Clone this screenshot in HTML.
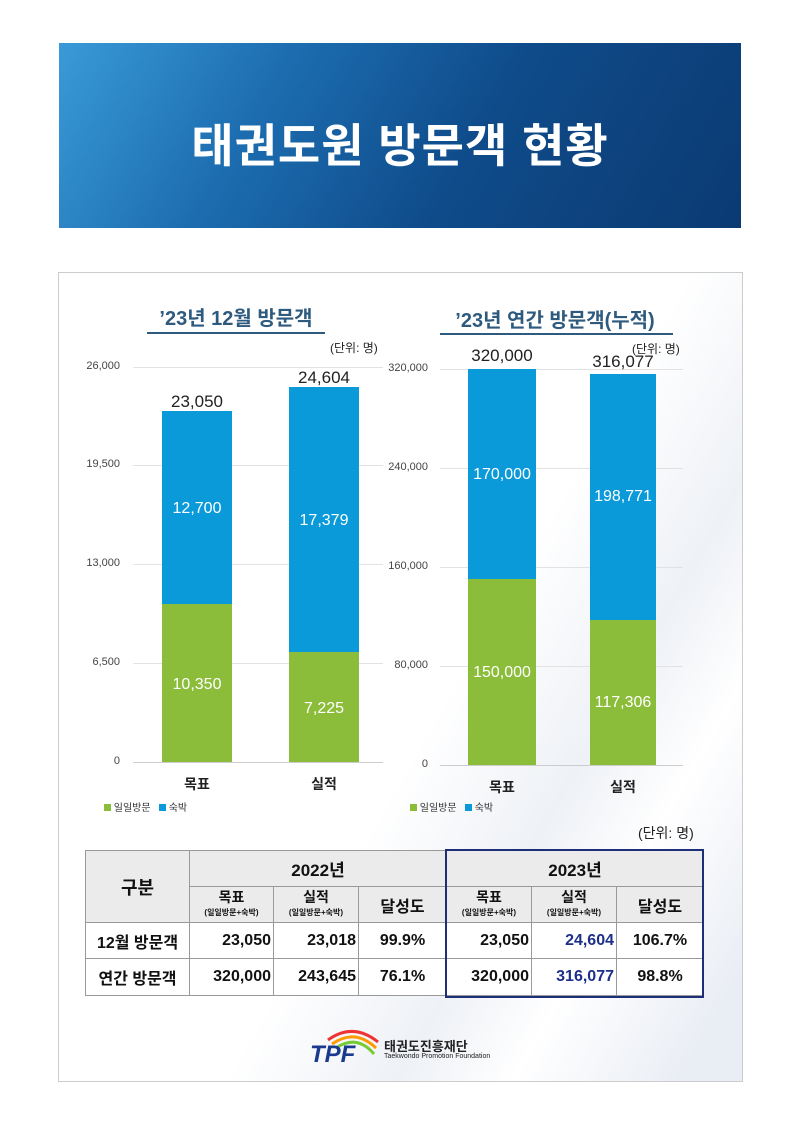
<!DOCTYPE html>
<html><head><meta charset="utf-8"><style>
body{margin:0;width:800px;height:1132px;background:#fff;position:relative;font-family:"Liberation Sans","Noto Sans CJK KR",sans-serif;overflow:hidden}
.a{position:absolute}
.t{position:absolute;white-space:nowrap}
.yl{position:absolute;font-size:11px;color:#444;text-align:right;width:60px}
.g{position:absolute;height:1px;background:#e2e2e2}
.bl{position:absolute;color:#fff;font-size:16px;text-align:center}
.top{position:absolute;color:#222;font-size:17px;text-align:center}
table{border-collapse:collapse;position:absolute;left:85px;top:850px;font-family:"Liberation Sans","Noto Sans CJK KR",sans-serif}
td{border:1px solid #999;text-align:center;font-weight:bold;color:#111;padding:0}
</style></head><body>
<div class="a" style="left:59px;top:43px;width:682px;height:185px;background:linear-gradient(120deg,#3a9ad8 0%,#1c6db0 30%,#0f4b8a 60%,#0b3a72 100%)"></div>
<div class="t" style="left:59px;top:110px;width:682px;text-align:center;color:#fff;font-size:46px;font-weight:bold;letter-spacing:1px">태권도원 방문객 현황</div>
<div class="a" style="left:58px;top:272px;width:683px;height:808px;border:1px solid #ccc;background:linear-gradient(120deg,#fff 55%,#eef1f6 70%,#fff 80%,#e9edf4 95%)"></div>

<!-- left chart -->
<div class="t" style="left:145px;top:302px;width:182px;text-align:center;font-size:20px;font-weight:bold;color:#2e5a7e">’23년 12월 방문객</div>
<div class="a" style="left:147px;top:332px;width:178px;height:2px;background:#2e5a7e"></div>
<div class="t" style="left:330px;top:339px;font-size:12px;color:#222">(단위: 명)</div>
<div class="yl" style="left:60px;top:360px">26,000</div>
<div class="yl" style="left:60px;top:458px">19,500</div>
<div class="yl" style="left:60px;top:557px">13,000</div>
<div class="yl" style="left:60px;top:656px">6,500</div>
<div class="yl" style="left:60px;top:755px">0</div>
<div class="g" style="left:133px;top:367px;width:250px"></div>
<div class="g" style="left:133px;top:465px;width:250px"></div>
<div class="g" style="left:133px;top:564px;width:250px"></div>
<div class="g" style="left:133px;top:663px;width:250px"></div>
<div class="g" style="left:133px;top:762px;width:250px;background:#ccc"></div>
<div class="a" style="left:162px;top:411px;width:70px;height:193px;background:#0a9ad9"></div>
<div class="a" style="left:162px;top:604px;width:70px;height:158px;background:#8bbd3a"></div>
<div class="a" style="left:289px;top:387px;width:70px;height:265px;background:#0a9ad9"></div>
<div class="a" style="left:289px;top:652px;width:70px;height:110px;background:#8bbd3a"></div>
<div class="top" style="left:147px;top:392px;width:100px">23,050</div>
<div class="top" style="left:274px;top:368px;width:100px">24,604</div>
<div class="bl" style="left:147px;top:500px;width:100px">12,700</div>
<div class="bl" style="left:147px;top:676px;width:100px">10,350</div>
<div class="bl" style="left:274px;top:512px;width:100px">17,379</div>
<div class="bl" style="left:274px;top:700px;width:100px">7,225</div>
<div class="t" style="left:177px;top:774px;width:40px;text-align:center;font-size:14px;font-weight:bold;color:#222">목표</div>
<div class="t" style="left:304px;top:774px;width:40px;text-align:center;font-size:14px;font-weight:bold;color:#222">실적</div>
<div class="t" style="left:104px;top:799px;font-size:10px;color:#333"><span style="display:inline-block;width:7px;height:7px;background:#8bbd3a"></span> 일일방문 &nbsp; <span style="display:inline-block;width:7px;height:7px;background:#0a9ad9"></span> 숙박</div>

<!-- right chart -->
<div class="t" style="left:430px;top:304px;width:250px;text-align:center;font-size:20px;font-weight:bold;color:#2e5a7e">’23년 연간 방문객(누적)</div>
<div class="a" style="left:440px;top:333px;width:233px;height:2px;background:#2e5a7e"></div>
<div class="t" style="left:632px;top:340px;font-size:12px;color:#222">(단위: 명)</div>
<div class="yl" style="left:368px;top:362px">320,000</div>
<div class="yl" style="left:368px;top:461px">240,000</div>
<div class="yl" style="left:368px;top:560px">160,000</div>
<div class="yl" style="left:368px;top:659px">80,000</div>
<div class="yl" style="left:368px;top:758px">0</div>
<div class="g" style="left:440px;top:369px;width:243px"></div>
<div class="g" style="left:440px;top:468px;width:243px"></div>
<div class="g" style="left:440px;top:567px;width:243px"></div>
<div class="g" style="left:440px;top:666px;width:243px"></div>
<div class="g" style="left:440px;top:765px;width:243px;background:#ccc"></div>
<div class="a" style="left:468px;top:369px;width:68px;height:210px;background:#0a9ad9"></div>
<div class="a" style="left:468px;top:579px;width:68px;height:186px;background:#8bbd3a"></div>
<div class="a" style="left:590px;top:374px;width:66px;height:246px;background:#0a9ad9"></div>
<div class="a" style="left:590px;top:620px;width:66px;height:145px;background:#8bbd3a"></div>
<div class="top" style="left:452px;top:346px;width:100px">320,000</div>
<div class="top" style="left:573px;top:352px;width:100px">316,077</div>
<div class="bl" style="left:452px;top:466px;width:100px">170,000</div>
<div class="bl" style="left:452px;top:664px;width:100px">150,000</div>
<div class="bl" style="left:573px;top:488px;width:100px">198,771</div>
<div class="bl" style="left:573px;top:694px;width:100px">117,306</div>
<div class="t" style="left:482px;top:777px;width:40px;text-align:center;font-size:14px;font-weight:bold;color:#222">목표</div>
<div class="t" style="left:603px;top:777px;width:40px;text-align:center;font-size:14px;font-weight:bold;color:#222">실적</div>
<div class="t" style="left:410px;top:799px;font-size:10px;color:#333"><span style="display:inline-block;width:7px;height:7px;background:#8bbd3a"></span> 일일방문 &nbsp; <span style="display:inline-block;width:7px;height:7px;background:#0a9ad9"></span> 숙박</div>

<div class="t" style="left:638px;top:823px;font-size:14px;color:#222">(단위: 명)</div>

<table>
<tr style="height:36px;background:#ebebeb"><td rowspan="2" style="width:103px;font-size:18px">구분</td><td colspan="3" style="font-size:17px">2022년</td><td colspan="3" style="font-size:17px">2023년</td></tr>
<tr style="height:36px;background:#ebebeb">
<td style="width:83px;font-size:14px;line-height:13px">목표<br><span style="font-size:8px">(일일방문+숙박)</span></td>
<td style="width:84px;font-size:14px;line-height:13px">실적<br><span style="font-size:8px">(일일방문+숙박)</span></td>
<td style="width:87px;font-size:16px">달성도</td>
<td style="width:84px;font-size:14px;line-height:13px">목표<br><span style="font-size:8px">(일일방문+숙박)</span></td>
<td style="width:84px;font-size:14px;line-height:13px">실적<br><span style="font-size:8px">(일일방문+숙박)</span></td>
<td style="width:86px;font-size:16px">달성도</td></tr>
<tr style="height:36px;font-size:16px;background:#fff"><td>12월 방문객</td><td style="text-align:right;padding-right:2px">23,050</td><td style="text-align:right;padding-right:2px">23,018</td><td>99.9%</td><td style="text-align:right;padding-right:2px">23,050</td><td style="text-align:right;padding-right:2px;color:#1e2f8a">24,604</td><td>106.7%</td></tr>
<tr style="height:37px;font-size:16px;background:#fff"><td>연간 방문객</td><td style="text-align:right;padding-right:2px">320,000</td><td style="text-align:right;padding-right:2px">243,645</td><td>76.1%</td><td style="text-align:right;padding-right:2px">320,000</td><td style="text-align:right;padding-right:2px;color:#1e2f8a">316,077</td><td>98.8%</td></tr>
</table>
<div class="a" style="left:445px;top:849px;width:255px;height:145px;border:2px solid #1e2f7a"></div>

<!-- logo -->
<svg class="a" style="left:308px;top:1022px" width="75" height="45">
<path d="M20 18 Q45 0 70 20" stroke="#e33" stroke-width="3" fill="none"/>
<path d="M24 22 Q47 6 68 26" stroke="#f90" stroke-width="3" fill="none"/>
<path d="M28 26 Q49 12 66 32" stroke="#7c3" stroke-width="3" fill="none"/>
<text x="2" y="40" font-family="Liberation Sans" font-weight="bold" font-style="italic" font-size="24" fill="#1a3a8e">TPF</text>
</svg>
<div class="t" style="left:384px;top:1036px;font-size:13px;font-weight:bold;color:#222">태권도진흥재단</div>
<div class="t" style="left:384px;top:1053px;font-size:7px;color:#222">Taekwondo Promotion Foundation</div>
</body></html>
